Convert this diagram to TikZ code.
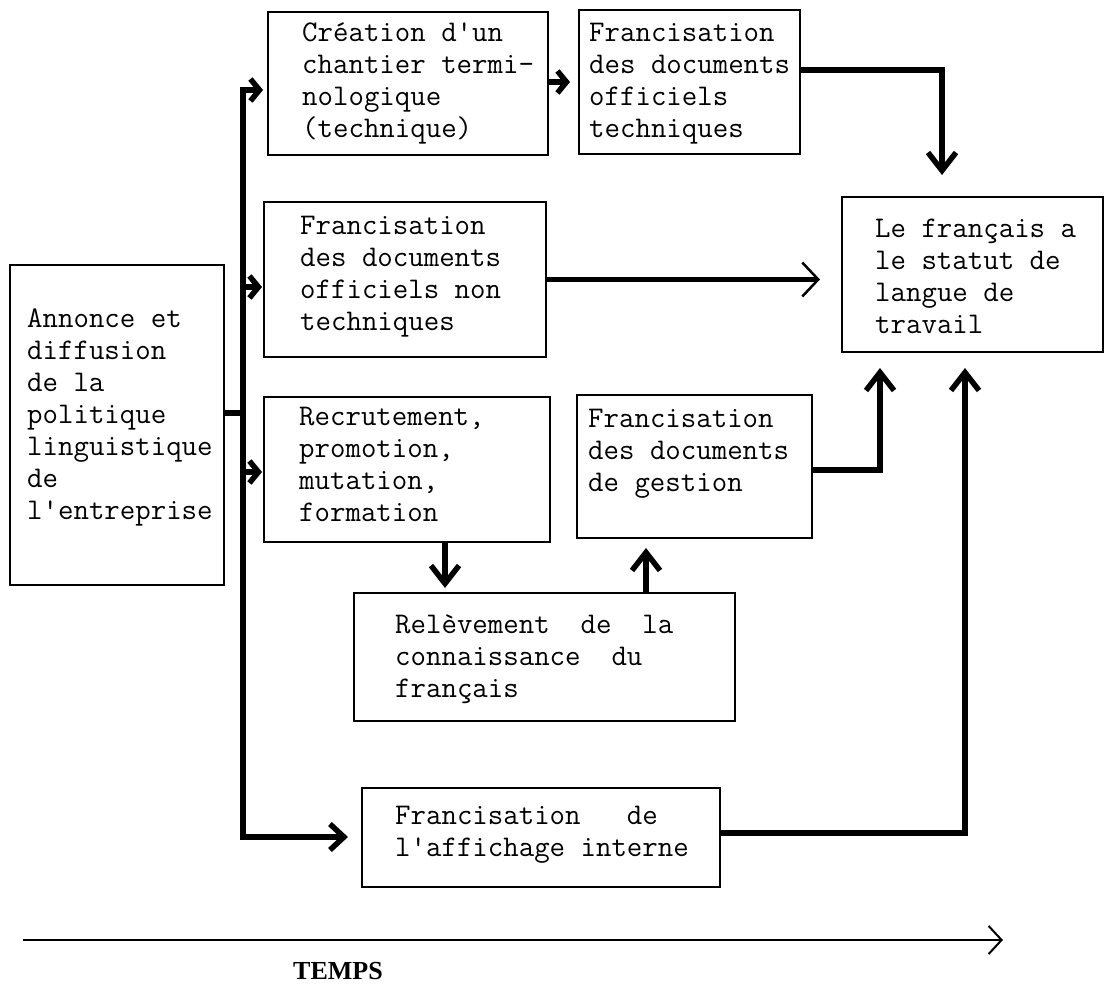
\documentclass[tikz,border=0pt]{standalone}
\usepackage{fontspec}
\newfontfamily\tempsfont{Liberation Serif}
\usetikzlibrary{arrows.meta}
\begin{document}
\begin{tikzpicture}[
  x=1pt, y=-1pt,
  box/.style={draw, line width=2.6pt, anchor=north west, inner sep=0pt, outer sep=0pt},
  txt/.style={anchor=north west, inner sep=0pt, align=left, font=\fontsize{30}{32}\selectfont\ttfamily},
  conn/.style={line width=5.5pt, line cap=butt, line join=miter},
  bigtip/.style={-{Straight Barb[length=18pt,width=28pt]}},
  smalltip/.style={-{Straight Barb[length=9pt,width=22pt]}},
  opentip/.style={-{Straight Barb[length=16pt,width=34pt,line width=2.5pt]}},
]
\useasboundingbox (0,0) rectangle (1106,987);

% boxes
\node[box, minimum width=214pt, minimum height=320pt] (ann) at (10,265) {};
\node[box, minimum width=280pt, minimum height=143pt] (cre) at (268,12) {};
\node[box, minimum width=221pt, minimum height=144pt] (off) at (579,10) {};
\node[box, minimum width=282pt, minimum height=155pt] (nt) at (264,202) {};
\node[box, minimum width=286pt, minimum height=145pt] (rec) at (264,397) {};
\node[box, minimum width=235pt, minimum height=143pt] (ges) at (577,395) {};
\node[box, minimum width=381pt, minimum height=128pt] (rel) at (354,593) {};
\node[box, minimum width=358pt, minimum height=99pt] (aff) at (362,788) {};
\node[box, minimum width=261pt, minimum height=155pt] (lf) at (842,197) {};

% texts
\node[txt] (annT) at (27,304.6) {\strut Annonce et\\diffusion\\de la\\politique\\linguistique\\de\\l\textquotesingle entreprise};
\node[txt] (creT) at (302,18.6) {\strut Création d\textquotesingle un\\chantier termi-\\nologique\\(technique)};
\node[txt] (offT) at (589,18.6) {\strut Francisation\\des documents\\officiels\\techniques};
\node[txt] (ntT) at (300,211.6) {\strut Francisation\\des documents\\officiels non\\techniques};
\node[txt] (recT) at (299,402.6) {\strut Recrutement,\\promotion,\\mutation,\\formation};
\node[txt] (gesT) at (588,404.6) {\strut Francisation\\des documents\\de gestion};
\node[txt] (relT) at (395,610.6) {\strut Relèvement~~de~~la\\connaissance~~du\\français};
\node[txt] (affT) at (395,801.6) {\strut Francisation~~~de\\l\textquotesingle affichage interne};
\node[txt] (lfT) at (875,214.6) {\strut Le français a\\le statut de\\langue de\\travail};

% trunk
\coordinate (tTop) at (243,90);
\coordinate (tBot) at (243,837);
\coordinate (jA) at (243,413);
\coordinate (j2) at (243,287);
\coordinate (j3) at (243,472);
\draw[conn, {Straight Barb[length=9pt,width=22pt]}-{Straight Barb[length=14pt,width=26pt]},
      shorten <=5pt, shorten >=14pt]
  (cre.west |- tTop) -- (tTop) -- (tBot) -- (aff.west |- tBot);
\draw[conn] (ann.east |- jA) -- (jA);
\draw[conn, smalltip, shorten >=2pt] (j2) -- (j2 -| nt.west);
\draw[conn, smalltip, shorten >=2pt] (j3) -- (j3 -| rec.west);

% creation -> officiels techniques
\coordinate (c1) at (560,82);
\draw[conn, smalltip, shorten >=9pt] (cre.east |- c1) -- (off.west |- c1);

% officiels techniques -> le francais
\coordinate (o1) at (942,70);
\draw[conn, bigtip, shorten >=22pt] (off.east |- o1) -- (o1) -- (o1 |- lf.north);

% non techniques -> le francais
\draw[conn, opentip, shorten >=22pt] (nt.east) -- (nt.east -| lf.west);

% gestion -> le francais
\coordinate (g1) at (880,470);
\draw[conn, bigtip, shorten >=16pt] (ges.east |- g1) -- (g1) -- (g1 |- lf.south);

% affichage -> le francais
\coordinate (a1) at (965,833);
\draw[conn, bigtip, shorten >=16pt] (aff.east |- a1) -- (a1) -- (a1 |- lf.south);

% recrutement -> relevement
\coordinate (r1) at (445,560);
\draw[conn, bigtip, shorten >=5pt] (rec.south -| r1) -- (rel.north -| r1);

% relevement -> gestion
\coordinate (r2) at (646,560);
\draw[conn, bigtip, shorten >=10pt] (rel.north -| r2) -- (ges.south -| r2);

% time axis
\coordinate (t0) at (23,940);
\coordinate (t1) at (1003,940);
\draw[line width=2pt, -{Straight Barb[length=13pt,width=28pt]}] (t0) -- (t1);
\node[font=\fontsize{26}{30}\selectfont\tempsfont\bfseries, inner sep=0pt] (temps) at (338,971) {TEMPS};
\end{tikzpicture}
\end{document}
